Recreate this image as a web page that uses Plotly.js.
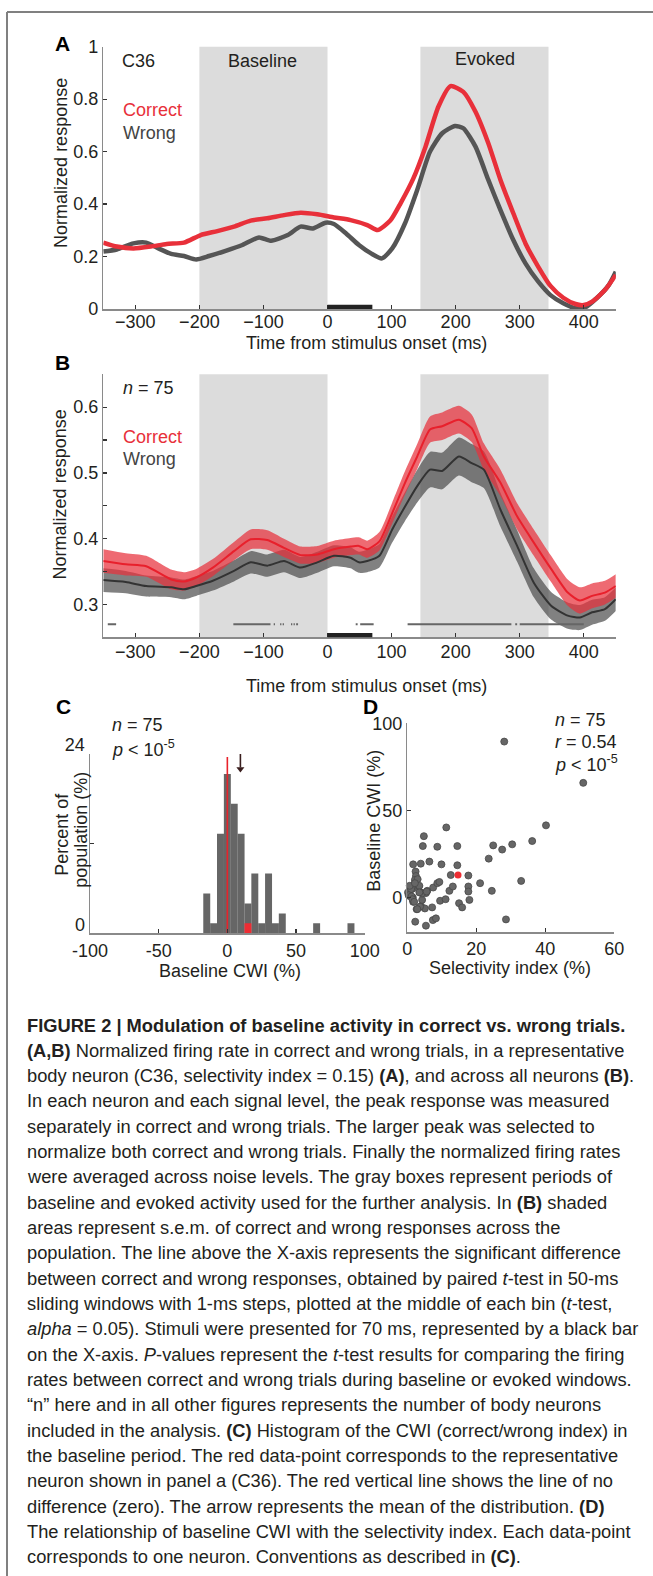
<!DOCTYPE html>
<html>
<head>
<meta charset="utf-8">
<script src="https://cdn.plot.ly/plotly-3.0.1.min.js"></script>
<style>html,body{margin:0;padding:0;background:#fff;}#chart{width:653px;height:1576px;}</style>
</head>
<body>
<div id="chart"></div>
<script>
// ---------------- DATA ----------------
// Panel A: representative neuron C36
const tCorrectA = [-350,-329,-303,-276,-251,-224,-198,-172,-146,-120,-94,-68,-42,-16,10,36,62,78,98,114,134,153,173,192,212,231,251,270,290,309,329,348,368,387,400,413,433,450];
const correctA  = [0.253,0.238,0.231,0.238,0.248,0.253,0.282,0.297,0.314,0.337,0.346,0.358,0.367,0.361,0.349,0.339,0.320,0.301,0.337,0.403,0.498,0.619,0.771,0.850,0.828,0.752,0.632,0.492,0.365,0.250,0.161,0.088,0.043,0.019,0.015,0.028,0.072,0.130];
const tWrongA   = [-350,-329,-303,-283,-264,-244,-224,-205,-185,-159,-133,-107,-88,-62,-42,-23,-3,10,29,49,68,85,101,121,140,160,179,199,212,231,251,270,290,309,329,348,368,387,400,420,439,450];
const wrongA    = [0.219,0.227,0.250,0.253,0.231,0.210,0.202,0.189,0.202,0.222,0.244,0.273,0.260,0.282,0.314,0.307,0.329,0.324,0.288,0.244,0.212,0.193,0.231,0.327,0.454,0.600,0.670,0.698,0.689,0.619,0.492,0.377,0.263,0.174,0.104,0.053,0.022,0.003,0.003,0.041,0.091,0.142];

// Panel B: population average (n = 75)
const tB        = [-350,-315,-283,-244,-224,-205,-179,-146,-120,-94,-68,-42,-16,10,36,49,62,81,101,121,140,160,179,205,225,244,270,296,322,349,375,394,413,433,450];
const correctB  = [0.366,0.361,0.358,0.338,0.335,0.341,0.356,0.381,0.399,0.398,0.386,0.375,0.376,0.384,0.388,0.389,0.384,0.396,0.439,0.485,0.525,0.566,0.571,0.581,0.568,0.525,0.485,0.434,0.394,0.354,0.318,0.306,0.313,0.318,0.328];
const semCorrectB = [0.018,0.017,0.016,0.015,0.014,0.013,0.013,0.014,0.015,0.015,0.014,0.013,0.013,0.013,0.013,0.013,0.013,0.014,0.016,0.018,0.019,0.020,0.021,0.021,0.021,0.020,0.020,0.020,0.020,0.020,0.020,0.020,0.019,0.018,0.018];
const wrongB    = [0.337,0.334,0.328,0.326,0.323,0.328,0.336,0.351,0.364,0.359,0.366,0.356,0.364,0.374,0.371,0.364,0.366,0.374,0.414,0.449,0.480,0.505,0.503,0.525,0.515,0.505,0.444,0.389,0.333,0.298,0.283,0.280,0.288,0.293,0.308];
const semWrongB = [0.018,0.017,0.016,0.015,0.015,0.015,0.015,0.016,0.017,0.017,0.017,0.016,0.016,0.016,0.016,0.016,0.017,0.018,0.020,0.022,0.025,0.027,0.028,0.029,0.029,0.028,0.026,0.024,0.022,0.021,0.020,0.019,0.019,0.018,0.018];
// significant-difference segments (ms) and level
const sigStarts = [-343,-147,-84,-74,-70,-57,-53,-49,44,51,125,293,300];
const sigEnds   = [-330,-89,-82,-72,-68,-55,-51,-46,47,72,287,296,400];
const sigLevel  = 0.27;

// analysis windows and stimulus presentation (ms)
const baselineWindow = [-200, 0];
const evokedWindow   = [145, 345];
const stimulusOn     = [0, 70];

// Panel C: histogram of baseline CWI
const nNeurons   = 75;
const cwiBins    = [-15,-10,-5,0,5,10,15,20,25,30,35,40,65,90];
const cwiCounts  = [4,1,10,16,13,10,3,6,1,6,1,2,1,1];
const c36Bin     = [15];
const c36Count   = [1];
const cwiMean    = 9.5;
const zeroLineTop = 23.6;

// Panel D: selectivity index vs baseline CWI
const selIdx = [28.1,51.0,40.2,11.3,36.2,30.4,24.9,27.5,23.6,33.0,28.6,4.8,4.5,8.7,14.5,1.7,3.9,6.4,9.9,14.5,2.4,2.5,2.2,12.6,17.7,2.1,3.3,1.6,0.8,0.2,0.6,1.6,3.9,5.8,7.5,8.7,9.3,12.2,13.2,17.7,17.7,18.0,21.1,24.5,1.7,2.7,4.0,5.1,7.2,9.5,11.1,15.0,15.9,2.3,5.4,7.4,8.3,4.3,5.4,3.0,1.4,1.1,0.4,1.25,3.5,4.3,5.6,1.5,2.0,3.7,2.9,0.7,2.2,3.5];
const baseCWI = [89.5,65.8,41.4,40.2,32.4,30.5,29.9,27.5,22.3,9.5,-12.6,35.2,29.5,29.1,29.5,19.0,19.4,20.6,19.0,18.5,14.9,12.3,10.1,12.9,12.6,7.6,6.3,5.1,3.8,2.9,0.9,0.0,2.9,3.8,5.7,8.2,8.9,3.8,6.3,6.3,3.4,-1.4,8.2,3.8,-2.5,-6.7,-5.1,-6.3,-5.7,-1.9,-1.0,-3.3,-5.7,-13.9,-16.2,-13.0,-12.0,-1.4,2.5,10.5,6.3,4.8,1.3,0.6,6.7,2.3,3.4,-1.0,-2.5,-5.3,-6.7,6.7,8.2,2.9];
const c36Sel = [14.7];
const c36CWI = [12.9];

// tick labels
const timeTicks = [-300,-200,-100,0,100,200,300,400];
const aTickVals = [0,0.2,0.4,0.6,0.8,1];
const aTickText = ['0','0.2','0.4','0.6','0.8','1'];
const bTickVals = [0.3,0.4,0.5,0.6];
const bTickText = ['0.3','0.4','0.5','0.6'];
const bMinorVals = [0.35,0.45,0.55,0.65];
const cXVals = [-100,-50,0,50,100];
const cXText = ['-100','-50','0','50','100'];
const cYVals = [0,24];
const cMinorVals = [12];
const dXVals = [0,20,40,60];
const dYVals = [0,50,100];

const captionLines = [
'<b>FIGURE 2 | Modulation of baseline activity in correct vs. wrong trials.</b>',
'<b>(A,B)</b> Normalized firing rate in correct and wrong trials, in a representative',
'body neuron (C36, selectivity index = 0.15) <b>(A)</b>, and across all neurons <b>(B)</b>.',
'In each neuron and each signal level, the peak response was measured',
'separately in correct and wrong trials. The larger peak was selected to',
'normalize both correct and wrong trials. Finally the normalized firing rates',
'were averaged across noise levels. The gray boxes represent periods of',
'baseline and evoked activity used for the further analysis. In <b>(B)</b> shaded',
'areas represent s.e.m. of correct and wrong responses across the',
'population. The line above the X-axis represents the significant difference',
'between correct and wrong responses, obtained by paired <i>t</i>-test in 50-ms',
'sliding windows with 1-ms steps, plotted at the middle of each bin (<i>t</i>-test,',
'<i>alpha</i> = 0.05). Stimuli were presented for 70 ms, represented by a black bar',
'on the X-axis. <i>P</i>-values represent the <i>t</i>-test results for comparing the firing',
'rates between correct and wrong trials during baseline or evoked windows.',
'\u201cn\u201d here and in all other figures represents the number of body neurons',
'included in the analysis. <b>(C)</b> Histogram of the CWI (correct/wrong index) in',
'the baseline period. The red data-point corresponds to the representative',
'neuron shown in panel a (C36). The red vertical line shows the line of no',
'difference (zero). The arrow represents the mean of the distribution. <b>(D)</b>',
'The relationship of baseline CWI with the selectivity index. Each data-point',
'corresponds to one neuron. Conventions as described in <b>(C)</b>.'
];

// ---------------- STYLE / LAYOUT ----------------
const W = 653, H = 1576;
const FONT = 'Arial, "Liberation Sans", Helvetica, sans-serif';
const RED = '#e8303a', TXT = '#231f20';
const px = x => x / W;
const py = y => 1 - y / H;

function axis(domain, range, extra) {
  return Object.assign({
    domain: domain, range: range, showline: true, linecolor: '#8a8a8a', linewidth: 1.5,
    ticks: 'inside', ticklen: 4, tickwidth: 1.2, tickcolor: '#333',
    tickfont: {family: FONT, size: 18, color: TXT},
    showgrid: false, zeroline: false, fixedrange: true
  }, extra || {});
}
const minor = vals => ({tickvals: vals, ticks: 'inside', ticklen: 4, tickwidth: 1.2, tickcolor: '#333', showgrid: false});

const traces = [];
// Panel A
traces.push({x: tWrongA, y: wrongA, xaxis: 'x', yaxis: 'y', mode: 'lines',
  line: {color: '#555555', width: 4.5, shape: 'spline', smoothing: 0.6}, hoverinfo: 'skip'});
traces.push({x: tCorrectA, y: correctA, xaxis: 'x', yaxis: 'y', mode: 'lines',
  line: {color: RED, width: 4.5, shape: 'spline', smoothing: 0.6}, hoverinfo: 'skip'});

// Panel B bands
const band = (t, m, s, fill) => ([
  {x: t, y: m.map((v, i) => v - s[i]), xaxis: 'x2', yaxis: 'y2', mode: 'lines',
   line: {width: 0, shape: 'spline', smoothing: 0.6}, hoverinfo: 'skip'},
  {x: t, y: m.map((v, i) => v + s[i]), xaxis: 'x2', yaxis: 'y2', mode: 'lines', fill: 'tonexty',
   fillcolor: fill, line: {width: 0, shape: 'spline', smoothing: 0.6}, hoverinfo: 'skip'}
]);
traces.push(...band(tB, wrongB, semWrongB, 'rgba(70,70,70,0.68)'));
traces.push(...band(tB, correctB, semCorrectB, 'rgba(232,48,60,0.72)'));
traces.push({x: tB, y: wrongB, xaxis: 'x2', yaxis: 'y2', mode: 'lines',
  line: {color: '#333333', width: 2, shape: 'spline', smoothing: 0.6}, hoverinfo: 'skip'});
traces.push({x: tB, y: correctB, xaxis: 'x2', yaxis: 'y2', mode: 'lines',
  line: {color: '#e8202c', width: 2, shape: 'spline', smoothing: 0.6}, hoverinfo: 'skip'});
// significance segments
const sigX = [], sigY = [];
sigStarts.forEach((s, i) => { sigX.push(s, sigEnds[i], null); sigY.push(sigLevel, sigLevel, null); });
traces.push({x: sigX, y: sigY, xaxis: 'x2', yaxis: 'y2', mode: 'lines',
  line: {color: '#666666', width: 2}, connectgaps: false, hoverinfo: 'skip'});

// Panel C
traces.push({x: cwiBins, y: cwiCounts.map(c => c / nNeurons * 100), xaxis: 'x3', yaxis: 'y3', type: 'bar',
  width: 5.07, marker: {color: '#666666', line: {width: 0}}, hoverinfo: 'skip'});
traces.push({x: c36Bin, y: c36Count.map(c => c / nNeurons * 100), xaxis: 'x3', yaxis: 'y3', type: 'bar',
  width: 5.07, marker: {color: '#ee2d33', line: {width: 0}}, hoverinfo: 'skip'});
traces.push({x: [0, 0], y: [0, zeroLineTop], xaxis: 'x3', yaxis: 'y3', mode: 'lines',
  line: {color: '#e8232b', width: 1.6}, hoverinfo: 'skip'});
// mean arrow (shaft + head)
traces.push({x: [cwiMean, cwiMean], y: [24.2, 22.2], xaxis: 'x3', yaxis: 'y3', mode: 'lines',
  line: {color: '#3a1e1e', width: 1.6}, hoverinfo: 'skip'});
traces.push({x: [cwiMean], y: [22.0], xaxis: 'x3', yaxis: 'y3', mode: 'markers', cliponaxis: false,
  marker: {symbol: 'triangle-down', size: 7, color: '#3a1e1e'}, hoverinfo: 'skip'});

// Panel D
traces.push({x: selIdx, y: baseCWI, xaxis: 'x4', yaxis: 'y4', mode: 'markers', cliponaxis: false,
  marker: {color: '#666666', size: 7, line: {color: '#474747', width: 0.8}}, hoverinfo: 'skip'});
traces.push({x: c36Sel, y: c36CWI, xaxis: 'x4', yaxis: 'y4', mode: 'markers', cliponaxis: false,
  marker: {color: '#ee2d33', size: 7}, hoverinfo: 'skip'});

// shapes
const shapes = [];
[['x', 'y'], ['x2', 'y2']].forEach(([xr, yr]) => {
  [baselineWindow, evokedWindow].forEach(w => shapes.push({type: 'rect', xref: xr, yref: yr + ' domain',
    x0: w[0], x1: w[1], y0: 0, y1: 1, fillcolor: '#dcdcdc', line: {width: 0}, layer: 'below'}));
  shapes.push({type: 'rect', xref: xr, yref: yr + ' domain', x0: stimulusOn[0], x1: stimulusOn[1],
    y0: 0, y1: 0.016, fillcolor: '#222222', line: {width: 0}, layer: 'above'});
});
// figure frame
shapes.push({type: 'line', xref: 'paper', yref: 'paper', x0: px(7), x1: 1, y0: py(12), y1: py(12), line: {color: '#808080', width: 2}});
shapes.push({type: 'line', xref: 'paper', yref: 'paper', x0: px(7), x1: px(7), y0: 0, y1: py(12), line: {color: '#808080', width: 2}});

// annotations
const ann = [];
function txt(text, x, y, opts) {
  ann.push(Object.assign({text: text, x: px(x), y: py(y), xref: 'paper', yref: 'paper',
    showarrow: false, xanchor: 'center', yanchor: 'middle',
    font: {family: FONT, size: 18, color: TXT}}, opts || {}));
}
const bold = {font: {family: FONT, size: 21, color: '#000', weight: 'bold'}};
// Panel A
txt('<b>A</b>', 62.5, 43.5, bold);
txt('C36', 138, 61);
txt('Baseline', 262, 61);
txt('Evoked', 485, 59);
txt('Correct', 120.8, 110, {xanchor: 'left', font: {family: FONT, size: 18, color: RED}});
txt('Wrong', 120.8, 133.3, {xanchor: 'left', font: {family: FONT, size: 18, color: '#444'}});
txt('Normalized response', 60.4, 162.5, {textangle: -90});
txt('Time from stimulus onset (ms)', 366, 343);
// Panel B
txt('<b>B</b>', 62.5, 362.3, bold);
txt('<i>n</i> = 75', 120.8, 388.3, {xanchor: 'left'});
txt('Correct', 120.8, 436.7, {xanchor: 'left', font: {family: FONT, size: 18, color: RED}});
txt('Wrong', 120.8, 459.3, {xanchor: 'left', font: {family: FONT, size: 18, color: '#444'}});
txt('Normalized response', 60.4, 494, {textangle: -90});
txt('Time from stimulus onset (ms)', 366, 686);
// Panel C
txt('<b>C</b>', 63, 706.7, bold);
txt('<i>n</i> = 75', 110, 725, {xanchor: 'left'});
txt('<i>p</i> < 10<sup>-5</sup>', 110, 748.3, {xanchor: 'left'});
txt('Percent of', 61.7, 834, {textangle: -90});
txt('population (%)', 80.8, 830, {textangle: -90});
txt('Baseline CWI (%)', 230, 971);
// Panel D
txt('<b>D</b>', 370, 706.7, bold);
txt('<i>n</i> = 75', 552.7, 720, {xanchor: 'left'});
txt('<i>r</i> = 0.54', 552.7, 741.7, {xanchor: 'left'});
txt('<i>p</i> < 10<sup>-5</sup>', 552.7, 763.3, {xanchor: 'left'});
txt('Baseline CWI (%)', 374, 820.8, {textangle: -90});
txt('Selectivity index (%)', 510, 968.3);
// caption
captionLines.forEach((line, i) => txt(line, 25, 1025 + 25.33 * i,
  {xanchor: 'left', font: {family: FONT, size: 18.3, color: TXT}}));

const layout = {
  width: W, height: H, margin: {l: 0, r: 0, t: 0, b: 0},
  paper_bgcolor: '#fff', plot_bgcolor: 'rgba(0,0,0,0)', showlegend: false, barmode: 'overlay',
  font: {family: FONT, size: 18, color: TXT},
  xaxis: axis([px(103.3), px(615.8)], [-350, 450], {anchor: 'y', tickvals: timeTicks, ticklabelstandoff: -4}),
  yaxis: axis([py(309), py(46.7)], [0, 1], {anchor: 'x', tickvals: aTickVals, ticktext: aTickText}),
  xaxis2: axis([px(103.3), px(615.8)], [-350, 450], {anchor: 'y2', tickvals: timeTicks, ticklabelstandoff: -2}),
  yaxis2: axis([py(637.3), py(374.3)], [0.25, 0.65], {anchor: 'x2', tickvals: bTickVals, ticktext: bTickText, minor: minor(bMinorVals)}),
  xaxis3: axis([px(90), px(364.7)], [-100, 100], {anchor: 'y3', tickvals: cXVals, ticktext: cXText, ticklabelstandoff: 1}),
  yaxis3: axis([py(933.3), py(754)], [0, 24], {anchor: 'x3', tickvals: cYVals, minor: minor(cMinorVals), ticklabelshift: -9}),
  xaxis4: axis([px(407.3), px(614.3)], [0, 60], {anchor: 'y4', tickvals: dXVals}),
  yaxis4: axis([py(932.3), py(723.3)], [-20, 100], {anchor: 'x4', tickvals: dYVals}),
  shapes: shapes, annotations: ann
};

Plotly.newPlot('chart', traces, layout, {staticPlot: true, displayModeBar: false});
</script>
</body>
</html>
